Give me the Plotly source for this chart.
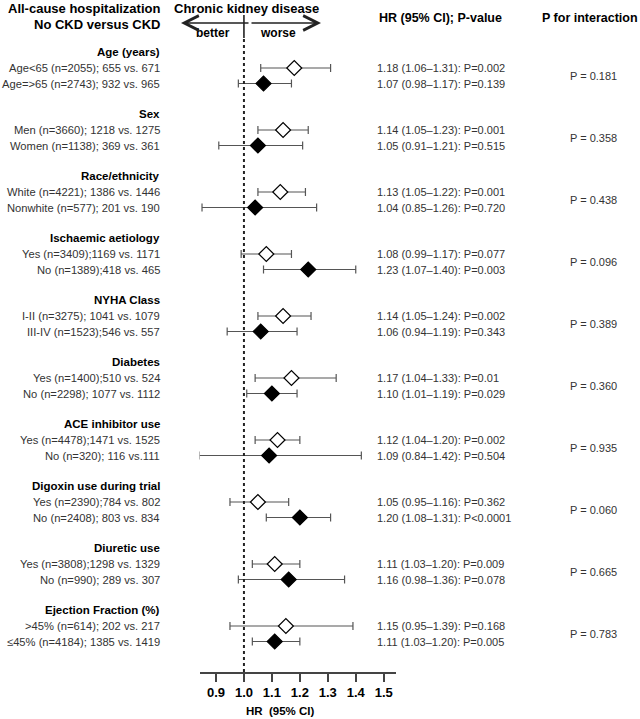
import plotly.graph_objects as go

grupos = ['Age (years)', 'Sex', 'Race/ethnicity', 'Ischaemic aetiology', 'NYHA Class',
          'Diabetes', 'ACE inhibitor use', 'Digoxin use during trial', 'Diuretic use',
          'Ejection Fraction (%)']

etiquetas = [
    'Age<65 (n=2055); 655 vs. 671', 'Age=>65 (n=2743); 932 vs. 965',
    'Men (n=3660); 1218 vs. 1275', 'Women (n=1138); 369 vs. 361',
    'White (n=4221); 1386 vs. 1446', 'Nonwhite (n=577); 201 vs. 190',
    'Yes (n=3409);1169 vs. 1171', 'No (n=1389);418 vs. 465',
    'I-II (n=3275); 1041 vs. 1079', 'III-IV (n=1523);546 vs. 557',
    'Yes (n=1400);510 vs. 524', 'No (n=2298); 1077 vs. 1112',
    'Yes (n=4478);1471 vs. 1525', 'No (n=320); 116 vs.111',
    'Yes (n=2390);784 vs. 802', 'No (n=2408); 803 vs. 834',
    'Yes (n=3808);1298 vs. 1329', 'No (n=990); 289 vs. 307',
    '>45% (n=614); 202 vs. 217', '≤45% (n=4184); 1385 vs. 1419',
]

hr = [1.18, 1.07, 1.14, 1.05, 1.13, 1.04, 1.08, 1.23, 1.14, 1.06,
      1.17, 1.10, 1.12, 1.09, 1.05, 1.20, 1.11, 1.16, 1.15, 1.11]
ic_bajo = [1.06, 0.98, 1.05, 0.91, 1.05, 0.85, 0.99, 1.07, 1.05, 0.94,
           1.04, 1.01, 1.04, 0.84, 0.95, 1.08, 1.03, 0.98, 0.95, 1.03]
ic_alto = [1.31, 1.17, 1.23, 1.21, 1.22, 1.26, 1.17, 1.40, 1.24, 1.19,
           1.33, 1.19, 1.20, 1.42, 1.16, 1.31, 1.20, 1.36, 1.39, 1.20]
p_valores = ['P=0.002', 'P=0.139', 'P=0.001', 'P=0.515', 'P=0.001', 'P=0.720',
             'P=0.077', 'P=0.003', 'P=0.002', 'P=0.343', 'P=0.01', 'P=0.029',
             'P=0.002', 'P=0.504', 'P=0.362', 'P<0.0001', 'P=0.009', 'P=0.078',
             'P=0.168', 'P=0.005']
p_interaccion = ['0.181', '0.358', '0.438', '0.096', '0.389', '0.360',
                 '0.935', '0.060', '0.665', '0.783']

ticks = [0.9, 1.0, 1.1, 1.2, 1.3, 1.4, 1.5]

# posiciones verticales (en pixeles, el eje y va de 0 arriba a 719 abajo)
y_cab = [52 + 62 * g for g in range(len(grupos))]
y_filas = []
for y0 in y_cab:
    y_filas += [y0 + 16, y0 + 31.5]

FUENTE = 'Liberation Sans, Arial, Helvetica, sans-serif'
gris = '#333333'

fig = go.Figure()

# abiertos = primera fila de cada grupo, rellenos = segunda
for k, relleno in [(0, 'white'), (1, 'black')]:
    idx = list(range(k, len(hr), 2))
    fig.add_trace(go.Scatter(
        x=[hr[i] for i in idx], y=[y_filas[i] for i in idx], mode='markers',
        marker=dict(symbol='diamond', size=11.5, color=relleno,
                    line=dict(color='black', width=1.2)),
        error_x=dict(type='data', symmetric=False,
                     array=[ic_alto[i] - hr[i] for i in idx],
                     arrayminus=[hr[i] - ic_bajo[i] for i in idx],
                     color='#555555', thickness=1.2, width=4),
        showlegend=False, hoverinfo='skip'))

anot = []
def texto(x, y, t, size=11, bold=False, anchor='left', color=gris):
    anot.append(dict(x=x / 640, y=y, xref='paper', yref='y', text=t, showarrow=False,
                     xanchor=anchor, yanchor='middle',
                     font=dict(family=FUENTE, size=size, color='black' if bold else color,
                               weight='bold' if bold else 'normal')))

texto(162, 8, 'All-cause hospitalization', 13, True, 'right')
texto(162, 24, 'No CKD versus CKD', 13, True, 'right')
texto(246, 8, 'Chronic kidney disease', 13, True, 'center')
texto(213, 33, 'better', 12, True, 'center')
texto(278, 33, 'worse', 12, True, 'center')
texto(440, 18, 'HR (95% CI); P-value', 12.5, True, 'center')
texto(590, 18, 'P for interaction', 12.5, True, 'center')
texto(280, 711, 'HR  (95% CI)', 11.5, True, 'center')

for g, nombre in enumerate(grupos):
    texto(162, y_cab[g], nombre, 11.5, True, 'right')
    texto(593, (y_filas[2 * g] + y_filas[2 * g + 1]) / 2, 'P = ' + p_interaccion[g], 11, anchor='center')

for i, lab in enumerate(etiquetas):
    texto(162, y_filas[i], lab, 11.2, anchor='right')
    texto(375, y_filas[i], f'{hr[i]:.2f} ({ic_bajo[i]:.2f}–{ic_alto[i]:.2f}): {p_valores[i]}', 11)

# flecha doble de arriba
for punta, cola in [(181, 69), (321, -71)]:
    anot.append(dict(x=punta / 640, y=23, xref='paper', yref='y', text='', showarrow=True,
                     ax=cola, ay=0, arrowhead=5, arrowsize=1.8, arrowwidth=1.6,
                     arrowcolor='#222222'))

fig.add_shape(type='line', xref='x', yref='y', x0=1.0, x1=1.0, y0=15, y1=38,
              line=dict(color='#222222', width=1.6))
fig.add_shape(type='line', xref='x', yref='y', x0=1.0, x1=1.0, y0=39, y1=673,
              line=dict(color='#222222', width=2, dash='dot'))

fig.update_layout(
    width=640, height=719, margin=dict(l=0, r=0, t=0, b=0),
    paper_bgcolor='white', plot_bgcolor='white', annotations=anot,
    xaxis=dict(domain=[199.5 / 640, 396 / 640], range=[0.841, 1.544],
               anchor='free', position=1 - 673 / 719,
               showgrid=False, zeroline=False, showline=True, linecolor='#444444',
               linewidth=1.5, ticks='outside', ticklen=8, tickwidth=1.5,
               tickcolor='#444444', tickvals=ticks,
               ticktext=[f'{t:.1f}' for t in ticks],
               tickfont=dict(family=FUENTE, size=13, color='black', weight='bold')),
    yaxis=dict(domain=[0, 1], range=[719, 0], visible=False),
)

# sin margen del body para que la figura ocupe justo la ventana
fig.write_html("out.html", config={'displayModeBar': False},
               post_script="document.body.style.margin='0';document.body.style.overflow='hidden';")
